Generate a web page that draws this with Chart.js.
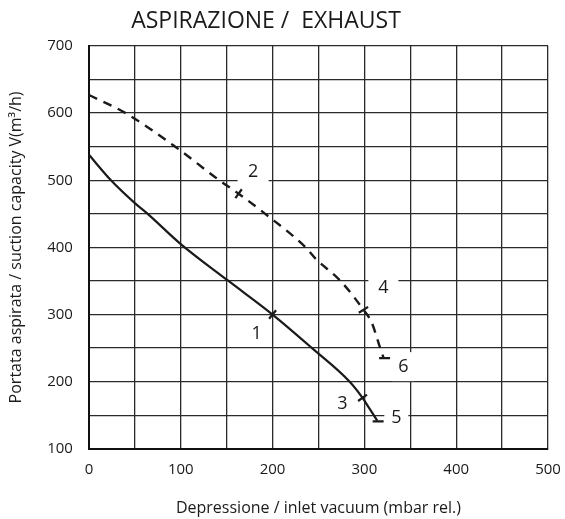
<!DOCTYPE html>
<html>
<head>
<meta charset="utf-8">
<script src="https://cdn.jsdelivr.net/npm/chart.js@4"></script>
<style>
  html,body{margin:0;padding:0;background:#fff;}
  #wrap{width:565px;height:519px;}
</style>
</head>
<body>
<div id="wrap"><canvas id="c" width="565" height="519"></canvas></div>
<script>
// ---- data ----
const curve1X = [0, 24, 50, 64, 100, 152, 200, 243, 284, 298, 306, 314];
const curve1Y = [538, 500, 466, 450, 405, 350, 300, 250, 200, 176, 159, 142];
const curve2X = [0, 40, 94, 142, 163, 192, 236, 247, 274, 299, 308, 317, 321];
const curve2Y = [627, 600, 550, 500, 480, 450, 400, 383, 350, 307, 288, 251, 235];
// marks on the curves (points 1..6)
const markX = [200, 163, 298, 299, 315, 322];
const markY = [300, 480, 176, 307, 141, 235];
const markAngle = [-51, -54, -36, -32, 0, 0];
// point labels
const labelText = ['1', '2', '3', '4', '5', '6'];
const labelX = [182.6, 178.8, 276, 320.7, 334.8, 342.4];
const labelY = [271.6, 512, 167, 340.3, 146.3, 222.4];
const xTicks = [0, 100, 200, 300, 400, 500];
const yTicks = [100, 200, 300, 400, 500, 600, 700];
const titleText = 'ASPIRAZIONE /  EXHAUST';
const xTitle = 'Depressione / inlet vacuum (mbar rel.)';
const yTitle = 'Portata aspirata / suction capacity V(m³/h)';

const FONT = '"Open Sans", "Noto Sans", sans-serif';
const INK = '#1a1a1a';

const pts = (xs, ys) => xs.map((x, i) => ({x, y: ys[i]}));

// white boxes (px) behind labels that break the grid
const labelBox = [[0,0],[31,20],[0,0],[30,20],[24,20],[22,29]];

const labelPlugin = {
  id: 'pointLabels',
  beforeDatasetsDraw(chart) {
    const {ctx, scales: {x, y}} = chart;
    ctx.save();
    labelText.forEach((t, i) => {
      const px = x.getPixelForValue(labelX[i]);
      const py = y.getPixelForValue(labelY[i]);
      const [w, h] = labelBox[i];
      if (w > 0) {
        ctx.fillStyle = '#fff';
        ctx.fillRect(px - w / 2, py - h / 2, w, h);
      }
      ctx.fillStyle = INK;
      ctx.font = '18px ' + FONT;
      ctx.textAlign = 'center';
      ctx.textBaseline = 'middle';
      ctx.fillText(t, px, py);
    });
    ctx.restore();
  }
};

const titlePlugin = {
  id: 'topTitle',
  afterDraw(chart) {
    const {ctx} = chart;
    ctx.save();
    ctx.fillStyle = INK;
    ctx.font = '23px ' + FONT;
    ctx.textAlign = 'center';
    ctx.textBaseline = 'middle';
    ctx.fillText(titleText, 266, 21);
    ctx.restore();
  }
};

new Chart(document.getElementById('c'), {
  type: 'scatter',
  data: {
    datasets: [
      {
        data: pts(curve1X, curve1Y),
        showLine: true,
        borderColor: INK,
        borderWidth: 2.2,
        pointRadius: 0,
        cubicInterpolationMode: 'monotone',
        fill: false
      },
      {
        data: pts(curve2X, curve2Y),
        showLine: true,
        borderColor: INK,
        borderWidth: 2.4,
        borderDash: [9, 7],
        pointRadius: 0,
        cubicInterpolationMode: 'monotone',
        fill: false
      },
      {
        data: pts(markX, markY),
        showLine: false,
        pointStyle: 'line',
        pointRadius: 5.5,
        pointBorderWidth: 2.2,
        pointBorderColor: INK,
        pointRotation: markAngle
      }
    ]
  },
  options: {
    responsive: false,
    animation: false,
    events: [],
    layout: {padding: {top: 46, left: 7, right: 1, bottom: 1}},
    plugins: {legend: {display: false}, tooltip: {enabled: false}, title: {display: false}},
    scales: {
      x: {
        type: 'linear', min: 0, max: 500,
        border: {color: '#111', width: 2},
        grid: {color: '#2a2a2a', lineWidth: 1.3, drawTicks: false},
        afterFit: s => { s.paddingRight = 17; },
        ticks: {
          stepSize: 50, autoSkip: false, maxRotation: 0, padding: 12,
          color: INK, font: {family: FONT, size: 15},
          callback: v => xTicks.includes(v) ? String(v) : ''
        },
        title: {display: true, text: xTitle, color: INK, font: {family: FONT, size: 16}, padding: {top: 8, bottom: 0}}
      },
      y: {
        type: 'linear', min: 100, max: 700,
        border: {color: '#111', width: 2},
        grid: {color: '#2a2a2a', lineWidth: 1.3, drawTicks: false},
        ticks: {
          stepSize: 50, autoSkip: false, padding: 16,
          color: INK, font: {family: FONT, size: 15},
          callback: v => yTicks.includes(v) ? String(v) : ''
        },
        title: {display: true, text: yTitle, color: INK, font: {family: FONT, size: 16}, padding: {top: 0, bottom: 5}}
      }
    }
  },
  plugins: [labelPlugin, titlePlugin]
});
</script>
</body>
</html>
